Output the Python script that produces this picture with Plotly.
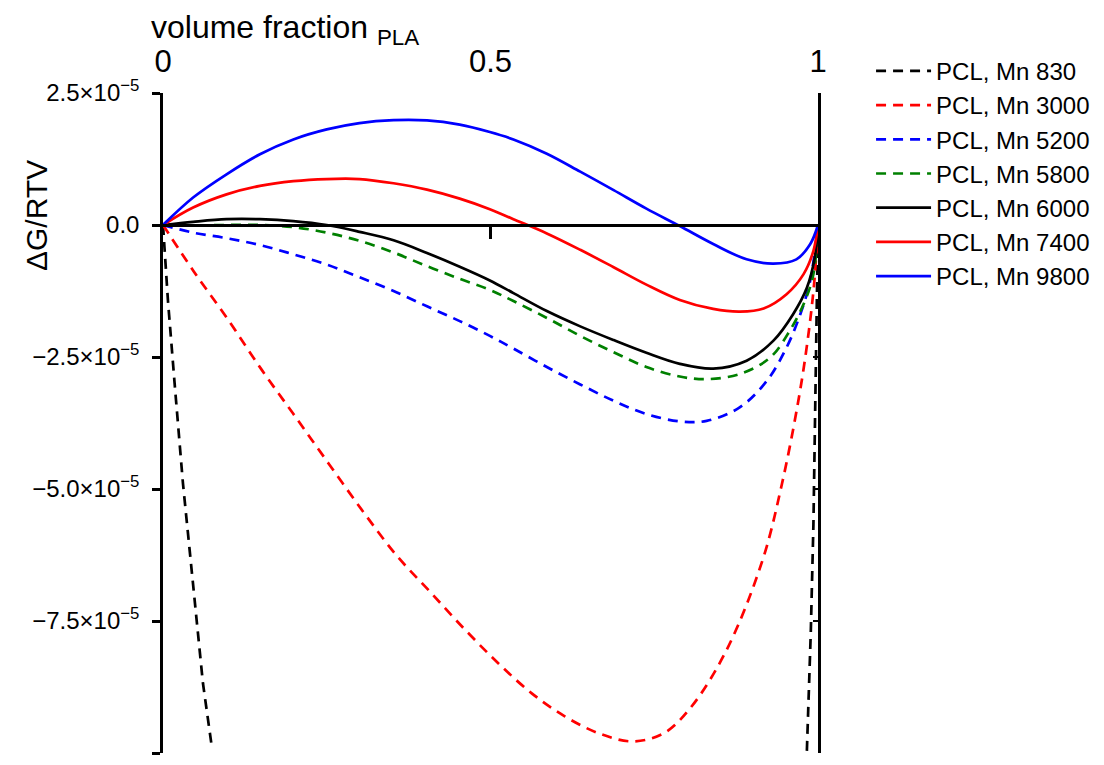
import plotly.graph_objects as go

SCALE = 1e-5  # values below are in units of 1e-5

# PCL, Mn 830 (two visible branches; the middle lies far below the axis range)
x_830 = [0, 0.0076, 0.0178, 0.0305, 0.0407, 0.0509, 0.061, 0.0738, None,
         0.983, 0.989, 0.993, 0.9955, 0.998, 1]
y_830 = [0, -1.44, -3.01, -4.90, -6.16, -7.42, -8.68, -9.82, None,
         -9.96, -7.71, -5.67, -3.63, -1.59, 0]

x_3000 = [0, 0.047, 0.0986, 0.150, 0.202, 0.253, 0.305, 0.356, 0.408, 0.460, 0.511,
          0.563, 0.614, 0.666, 0.716, 0.764, 0.805, 0.860, 0.915, 0.945, 0.970,
          0.984, 0.994, 1]
y_3000 = [0, -0.88, -1.78, -2.73, -3.63, -4.52, -5.42, -6.25, -6.95, -7.65, -8.29,
          -8.87, -9.31, -9.63, -9.78, -9.63, -9.15, -8.06, -6.36, -4.9, -3.33,
          -2.2, -1.12, 0]

x_5200 = [0, 0.046, 0.097, 0.148, 0.199, 0.25, 0.30, 0.352, 0.403, 0.453, 0.499,
          0.535, 0.586, 0.637, 0.688, 0.738, 0.789, 0.83, 0.881, 0.922, 0.952,
          0.973, 0.988, 1]
y_5200 = [0, -0.145, -0.25, -0.38, -0.555, -0.75, -0.99, -1.25, -1.54, -1.82, -2.10,
          -2.34, -2.69, -3.02, -3.33, -3.58, -3.72, -3.71, -3.45, -2.95, -2.32,
          -1.69, -1.06, 0]

x_5800 = [0, 0.046, 0.097, 0.148, 0.199, 0.25, 0.30, 0.352, 0.403, 0.453, 0.499,
          0.535, 0.586, 0.637, 0.688, 0.738, 0.789, 0.83, 0.881, 0.927, 0.957,
          0.980, 0.993, 1]
y_5800 = [0, -0.01, 0.0, 0.0, -0.04, -0.145, -0.30, -0.52, -0.78, -1.02, -1.23,
          -1.44, -1.76, -2.10, -2.41, -2.69, -2.87, -2.92, -2.82, -2.51, -2.0,
          -1.44, -0.93, 0]

x_6000 = [0, 0.046, 0.097, 0.148, 0.199, 0.25, 0.30, 0.352, 0.403, 0.453, 0.499,
          0.535, 0.586, 0.637, 0.688, 0.738, 0.789, 0.84, 0.891, 0.932, 0.962,
          0.983, 0.995, 1]
y_6000 = [0, 0.06, 0.11, 0.11, 0.075, 0, -0.13, -0.29, -0.53, -0.79, -1.05,
          -1.29, -1.63, -1.92, -2.18, -2.42, -2.63, -2.72, -2.57, -2.19, -1.69,
          -1.19, -0.62, 0]

x_7400 = [0, 0.046, 0.097, 0.148, 0.199, 0.25, 0.30, 0.352, 0.403, 0.453, 0.499,
          0.535, 0.586, 0.637, 0.688, 0.738, 0.789, 0.84, 0.881, 0.917, 0.952,
          0.978, 0.993, 1]
y_7400 = [0, 0.33, 0.58, 0.74, 0.83, 0.87, 0.87, 0.79, 0.67, 0.50, 0.30,
          0.11, -0.16, -0.47, -0.80, -1.13, -1.42, -1.59, -1.64, -1.58, -1.31,
          -0.93, -0.49, 0]

x_9800 = [0, 0.046, 0.097, 0.148, 0.199, 0.25, 0.30, 0.352, 0.403, 0.453, 0.499,
          0.535, 0.586, 0.637, 0.688, 0.738, 0.789, 0.84, 0.891, 0.932, 0.967,
          0.988, 1]
y_9800 = [0, 0.52, 0.96, 1.34, 1.62, 1.81, 1.93, 1.985, 1.98, 1.90, 1.76,
          1.62, 1.35, 1.01, 0.66, 0.31, -0.02, -0.36, -0.65, -0.73, -0.65,
          -0.365, 0]

series_names = ["PCL, Mn 830", "PCL, Mn 3000", "PCL, Mn 5200", "PCL, Mn 5800",
                "PCL, Mn 6000", "PCL, Mn 7400", "PCL, Mn 9800"]
series_x = [x_830, x_3000, x_5200, x_5800, x_6000, x_7400, x_9800]
series_y = [y_830, y_3000, y_5200, y_5800, y_6000, y_7400, y_9800]
series_color = ["#000000", "#ff0000", "#0000ff", "#008000", "#000000", "#ff0000", "#0000ff"]
series_dash = ["dashed", "dashed", "dashed", "dashed", "solid", "solid", "solid"]

x_tick_vals = [0, 0.5, 1]
x_tick_text = ["0", "0.5", "1"]
y_tick_vals = [2.5e-5, 0, -2.5e-5, -5e-5, -7.5e-5, -1e-4]
y_tick_text = ["2.5×10<sup>−5</sup>", "0.0", "−2.5×10<sup>−5</sup>",
               "−5.0×10<sup>−5</sup>", "−7.5×10<sup>−5</sup>", "−1.0×10<sup>−4</sup>"]

FONT = "Liberation Sans, Arial, Helvetica, sans-serif"

fig = go.Figure()
for name, xs, ys, col, d in zip(series_names, series_x, series_y, series_color, series_dash):
    yv = [None if v is None else v * SCALE for v in ys]
    smooth = name != "PCL, Mn 830"
    fig.add_trace(go.Scatter(
        x=xs, y=yv, name=name, mode="lines", connectgaps=False,
        line=dict(color=col, width=2.7,
                  dash="10px,7px" if d == "dashed" else "solid",
                  shape="spline" if smooth else "linear", smoothing=1.0),
    ))

# empty helper traces so the overlaying axes (zero line, right frame line) are drawn
fig.add_trace(go.Scatter(x=[], y=[], xaxis="x2", yaxis="y", showlegend=False,
                         hoverinfo="skip"))
fig.add_trace(go.Scatter(x=[], y=[], xaxis="x", yaxis="y2", showlegend=False,
                         hoverinfo="skip"))

# the page body adds an 8px offset, so the figure is 8px smaller than the window
fig.update_layout(
    width=1096, height=757,
    paper_bgcolor="white", plot_bgcolor="white",
    margin=dict(l=155, r=286, t=85, b=12, autoexpand=False),
    font=dict(family=FONT, color="black"),
    xaxis=dict(range=[0, 1], side="top", showline=False, showgrid=False, zeroline=False,
               ticks="", tickvals=x_tick_vals, ticktext=x_tick_text,
               tickfont=dict(size=31), ticklabelstandoff=14),
    xaxis2=dict(range=[0, 1], overlaying="x", anchor="free", position=0.8, side="bottom",
                showline=True, linecolor="black", linewidth=2.5, showgrid=False,
                zeroline=False, ticks="outside", ticklen=12, tickwidth=2.5,
                tickcolor="black", tickvals=[0.5], showticklabels=False),
    yaxis=dict(range=[-1e-4, 2.5e-5], showline=True, linecolor="black", linewidth=2.5,
               showgrid=False, zeroline=False, ticks="outside", ticklen=8, tickwidth=2.5,
               tickcolor="black", tickvals=y_tick_vals, ticktext=y_tick_text,
               tickfont=dict(size=24), ticklabelstandoff=8),
    yaxis2=dict(range=[-1e-4, 2.5e-5], overlaying="y", side="right", anchor="x",
                showline=True, linecolor="black", linewidth=2.5, showgrid=False,
                zeroline=False, ticks="inside", ticklen=5, tickwidth=2, tickcolor="black",
                tickvals=y_tick_vals, showticklabels=False),
    legend=dict(x=1.081, y=1.067, xanchor="left", yanchor="top",
                font=dict(size=24), bgcolor="rgba(0,0,0,0)", itemwidth=55,
                tracegroupgap=0),
    annotations=[
        dict(text="volume fraction <sub>PLA</sub>", xref="paper", yref="paper",
             x=-0.021, y=1.096, xanchor="left", yanchor="middle", showarrow=False,
             font=dict(size=32)),
        dict(text="ΔG/RTV", xref="paper", yref="paper", x=-0.194, y=0.815,
             xanchor="center", yanchor="middle", textangle=-90, showarrow=False,
             font=dict(size=30)),
    ],
)

fig.write_html("out.html")
